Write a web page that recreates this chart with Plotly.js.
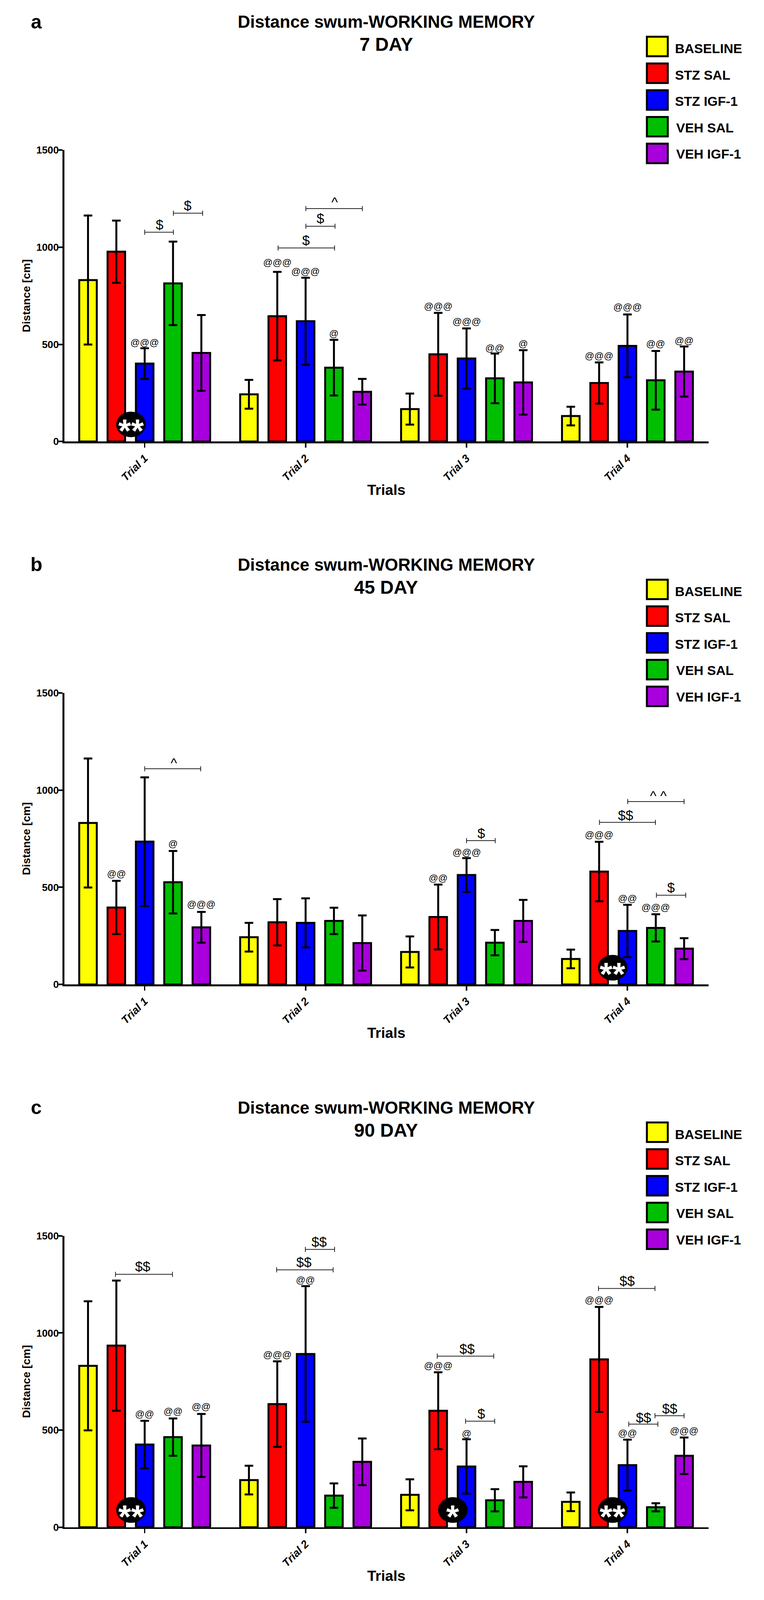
<!DOCTYPE html>
<html>
<head>
<meta charset="utf-8">
<title>Distance swum - working memory</title>
<script src="https://cdn.plot.ly/plotly-3.0.1.min.js"></script>
<style>html,body{margin:0;padding:0;background:#fff}#chart{width:1957px;height:4096px}</style>
</head>
<body>
<div id="chart"></div>
<script>
const FONT = '"Liberation Sans", Arial, sans-serif';

const trials = [0, 1, 2, 3];
const trialLabels = ['Trial 1', 'Trial 2', 'Trial 3', 'Trial 4'];
const seriesNames = ['BASELINE', 'STZ SAL', 'STZ IGF-1', 'VEH SAL', 'VEH IGF-1'];
const seriesColors = ['#FFFF00', '#FF0000', '#0000FF', '#00BF00', '#A800DD'];
const yTicks = [0, 500, 1000, 1500];
const panelLetters = ['a', 'b', 'c'];
const panelDays = ['7 DAY', '45 DAY', '90 DAY'];

const baseline = [831, 243, 167, 131];
const baselineErr = [332, 74, 80, 48];

const stzSal7 = [977, 645, 449, 301];
const stzSal7Err = [160, 228, 213, 106];
const stzIgf7 = [401, 619, 427, 492];
const stzIgf7Err = [79, 224, 155, 162];
const vehSal7 = [814, 380, 325, 315];
const vehSal7Err = [215, 143, 128, 151];
const vehIgf7 = [456, 256, 304, 360];
const vehIgf7Err = [195, 66, 166, 129];

const stzSal45 = [396, 320, 347, 581];
const stzSal45Err = [137, 119, 167, 153];
const stzIgf45 = [735, 317, 563, 275];
const stzIgf45Err = [331, 126, 87, 135];
const vehSal45 = [526, 327, 215, 291];
const vehSal45Err = [161, 68, 65, 70];
const vehIgf45 = [294, 213, 327, 184];
const vehIgf45Err = [79, 142, 108, 54];

const stzSal90 = [935, 634, 600, 864];
const stzSal90Err = [335, 220, 198, 270];
const stzIgf90 = [426, 892, 313, 320];
const stzIgf90Err = [122, 349, 140, 131];
const vehSal90 = [464, 163, 139, 103];
const vehSal90Err = [96, 63, 57, 21];
const vehIgf90 = [421, 337, 234, 368];
const vehIgf90Err = [162, 120, 80, 94];

// significance labels: [trial, series, y, text]
const atMarks7 = [[0,2,511,'@@@'],[1,1,922,'@@@'],[1,2,877,'@@@'],[1,3,557,'@'],[2,1,697,'@@@'],[2,2,618,'@@@'],[2,3,483,'@@'],[2,4,504,'@'],[3,1,442,'@@@'],[3,2,693,'@@@'],[3,3,504,'@@'],[3,4,521,'@@']];
const atMarks45 = [[0,1,571,'@@'],[0,3,726,'@'],[0,4,413,'@@@'],[2,1,549,'@@'],[2,2,681,'@@@'],[3,1,772,'@@@'],[3,2,444,'@@'],[3,3,397,'@@@']];
const atMarks90 = [[0,2,584,'@@'],[0,3,598,'@@'],[0,4,622,'@@'],[1,1,890,'@@@'],[1,2,1273,'@@'],[2,1,833,'@@@'],[2,2,483,'@'],[3,1,1170,'@@@'],[3,2,485,'@@'],[3,4,497,'@@@']];

// comparison brackets: [x start, x end, y, label, label x, label y]
const brackets7 = [[0,0.1785,1077,'$',0.091,1115],[0.1785,0.36,1175,'$',0.266,1214],[1.0015,1.3525,1199,'^',1.18,1232],[1.0015,1.183,1108,'$',1.092,1147],[0.829,1.18,996,'$',1.0015,1034]];
const brackets45 = [[0,0.348,1110,'^',0.1815,1139],[2,2.1785,740,'$',2.091,778],[2.826,3.174,834,'$$',2.989,869],[3.0015,3.352,941,'^ ^',3.192,970],[3.18,3.362,459,'$',3.271,497]];
const brackets90 = [[-0.1815,0.1725,1302,'$$',-0.012,1342],[0.9985,1.18,1430,'$$',1.083,1469],[0.82,1.171,1325,'$$',0.989,1363],[1.818,2.169,881,'$$',2.003,918],[1.994,2.175,546,'$',2.091,584],[2.82,3.171,1229,'$$',2.998,1268],[3.008,3.189,531,'$$',3.101,564],[3.171,3.352,574,'$$',3.262,610]];

// black badges: [x, y, text]
const badges7 = [[-0.085,88,'**']];
const badges45 = [[2.908,86,'**']];
const badges90 = [[-0.085,89,'**'],[1.915,89,'*'],[2.908,89,'**']];

const panels = [
  {means:[baseline,stzSal7,stzIgf7,vehSal7,vehIgf7], errs:[baselineErr,stzSal7Err,stzIgf7Err,vehSal7Err,vehIgf7Err], at:atMarks7, br:brackets7, badges:badges7},
  {means:[baseline,stzSal45,stzIgf45,vehSal45,vehIgf45], errs:[baselineErr,stzSal45Err,stzIgf45Err,vehSal45Err,vehIgf45Err], at:atMarks45, br:brackets45, badges:badges45},
  {means:[baseline,stzSal90,stzIgf90,vehSal90,vehIgf90], errs:[baselineErr,stzSal90Err,stzIgf90Err,vehSal90Err,vehIgf90Err], at:atMarks90, br:brackets90, badges:badges90}
];

// The browser viewport tops out at 4096px tall, so the 4427px design is fitted into it.
const W = 1957, DESIGN_H = 4427, H = 4096;
const axisBottoms = [1221.6, 2723.8, 4225.8];
const plotH = 806.4, axisLeft = 164.5, axisRight = 1815;
const xMin = -0.5, xMax = 3.504, yMax = 1500;
const BARGAP = 0.1196;
const slotW = (1 - BARGAP) / 5;
const capH = 13;
const px = v => v / W;
const py = v => 1 - v / DESIGN_H;
const slotX = (t, s) => t + (s - 2) * slotW;

const traces = [], annotations = [], shapes = [];
const layout = {
  width: W, height: H, autosize: false,
  margin: {l:0, r:0, t:0, b:0, pad:0},
  paper_bgcolor: '#fff', plot_bgcolor: '#fff',
  showlegend: false, barmode: 'group', bargap: BARGAP, bargroupgap: 0.38,
  font: {family: FONT, color: '#000'},
  hovermode: false
};

panels.forEach((p, i) => {
  const sfx = i === 0 ? '' : String(i + 1);
  const xa = 'x' + sfx, ya = 'y' + sfx;
  const bottom = axisBottoms[i], top = bottom - plotH;

  layout['xaxis' + sfx] = {
    domain: [px(axisLeft), px(axisRight)], range: [xMin, xMax], anchor: ya,
    tickmode: 'array', tickvals: trials, ticktext: trialLabels, tickangle: -45,
    tickfont: {family: FONT, size: 28, style: 'italic', weight: 'bold'},
    ticks: 'outside', ticklen: 11, tickwidth: 3.5, tickcolor: '#000',
    showline: true, linecolor: '#000', linewidth: 4.5, showgrid: false, zeroline: false,
    fixedrange: true,
    title: {text: 'Trials', font: {family: FONT, size: 37.5, weight: 'bold'}, standoff: 6}
  };
  layout['yaxis' + sfx] = {
    domain: [py(bottom), py(top)], range: [0, yMax], anchor: xa,
    tickmode: 'array', tickvals: yTicks, ticktext: yTicks.map(String),
    tickfont: {family: FONT, size: 26, weight: 'bold'}, ticklabelstandoff: -6,
    ticks: 'outside', ticklen: 10, tickwidth: 4, tickcolor: '#000',
    showline: true, linecolor: '#000', linewidth: 4.5, showgrid: false, zeroline: false,
    fixedrange: true,
    title: {text: 'Distance [cm]', font: {family: FONT, size: 28.5, weight: 'bold'}, standoff: 8}
  };

  seriesNames.forEach((name, s) => {
    traces.push({
      type: 'bar', name: name, x: trials, y: p.means[s], xaxis: xa, yaxis: ya,
      marker: {color: seriesColors[s], line: {color: '#000', width: 5}},
      error_y: {type: 'data', array: p.errs[s], visible: true, color: '#000', thickness: 5, width: 11},
      cliponaxis: false
    });
  });

  const bx = [], by = [];
  p.br.forEach(b => {
    bx.push(b[0], b[0], b[0], b[1], b[1], b[1], null);
    by.push(b[2] - capH, b[2] + capH, b[2], b[2], b[2] + capH, b[2] - capH, null);
    annotations.push({xref: xa, yref: ya, x: b[4], y: b[5], text: b[3], showarrow: false,
      xanchor: 'center', yanchor: 'middle', font: {family: FONT, size: 35, color: '#000'}});
  });
  traces.push({type: 'scatter', mode: 'lines', x: bx, y: by, xaxis: xa, yaxis: ya,
    line: {color: '#222', width: 2}, connectgaps: false, showlegend: false, cliponaxis: false});

  p.at.forEach(a => {
    annotations.push({xref: xa, yref: ya, x: slotX(a[0], a[1]), y: a[2], text: a[3], showarrow: false,
      xanchor: 'center', yanchor: 'middle', font: {family: FONT, size: 24, color: '#000'}});
  });

  p.badges.forEach(b => {
    shapes.push({type: 'circle', xref: xa, yref: ya, layer: 'above',
      x0: b[0] - 0.092, x1: b[0] + 0.092, y0: b[1] - 66, y1: b[1] + 66,
      fillcolor: '#000', line: {color: '#000', width: 0}});
    annotations.push({xref: xa, yref: ya, x: b[0], y: b[1], text: b[2], showarrow: false,
      xanchor: 'center', yanchor: 'middle', yshift: -17,
      font: {family: FONT, size: 84, color: '#fff', weight: 'bold'}});
  });

  // panel letter and two-line heading
  annotations.push({xref:'paper', yref:'paper', x:px(93), y:py(bottom-1161.6), text:panelLetters[i], showarrow:false,
    xanchor:'center', yanchor:'middle', font:{family:FONT, size:50, weight:'bold'}});
  annotations.push({xref:'paper', yref:'paper', x:px(989), y:py(bottom-1161.6), text:'Distance swum-WORKING MEMORY', showarrow:false,
    xanchor:'center', yanchor:'middle', font:{family:FONT, size:44, weight:'bold'}});
  annotations.push({xref:'paper', yref:'paper', x:px(989), y:py(bottom-1098.6), text:panelDays[i], showarrow:false,
    xanchor:'center', yanchor:'middle', font:{family:FONT, size:48, weight:'bold'}});

  // key
  const keyText = bottom - 1087.6;
  seriesNames.forEach((name, s) => {
    const t = bottom - 1120 + s * 74;
    shapes.push({type:'rect', xref:'paper', yref:'paper', layer:'above',
      x0:px(1657), x1:px(1710.5), y0:py(t), y1:py(t + 54),
      fillcolor:seriesColors[s], line:{color:'#000', width:5}});
    annotations.push({xref:'paper', yref:'paper', x:px(s >= 3 ? 1730 : 1727), y:py(keyText + s * 73), text:name,
      showarrow:false, xanchor:'left', yanchor:'middle', font:{family:FONT, size:34, weight:'bold'}});
  });
});

layout.annotations = annotations;
layout.shapes = shapes;
Plotly.newPlot('chart', traces, layout, {displayModeBar: false, staticPlot: true});
</script>
</body>
</html>
